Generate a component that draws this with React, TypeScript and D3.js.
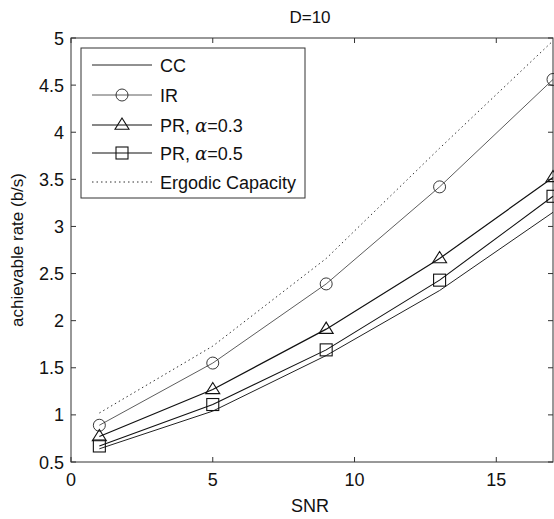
import React from "react";
import * as d3 from "d3";

const snr = [1, 5, 9, 13, 17];
const cc = [0.64, 1.04, 1.63, 2.32, 3.15];
const ir = [0.89, 1.55, 2.39, 3.42, 4.56];
const pr03 = [0.77, 1.27, 1.91, 2.66, 3.52];
const pr05 = [0.67, 1.11, 1.69, 2.43, 3.32];
const ergodic = [1.02, 1.73, 2.66, 3.83, 4.97];

const xTicks = [0, 5, 10, 15];
const yTicks = [0.5, 1, 1.5, 2, 2.5, 3, 3.5, 4, 4.5, 5];

const W = 554, H = 519;
const L = 71, R = 553, T = 38, B = 462;
const FONT = "'Liberation Sans', Arial, Helvetica, sans-serif";

type Marker = "none" | "circle" | "triangle" | "square";

function MarkerShape({ type, x, y }: { type: Marker; x: number; y: number }) {
  const s = 6;
  if (type === "circle") return <circle cx={x} cy={y} r={s} fill="none" stroke="#222" strokeWidth={0.9} />;
  if (type === "triangle")
    return (
      <path
        d={`M${x},${y - s - 1}L${x + s + 1},${y + s * 0.7}L${x - s - 1},${y + s * 0.7}Z`}
        fill="none"
        stroke="#111"
        strokeWidth={1.1}
      />
    );
  if (type === "square")
    return <rect x={x - s} y={y - s} width={2 * s} height={2 * s} fill="none" stroke="#111" strokeWidth={1.1} />;
  return null;
}

export default function App() {
  const x = d3.scaleLinear().domain([0, 17]).range([L, R]);
  const y = d3.scaleLinear().domain([0.5, 5]).range([B, T]);
  const line = d3
    .line<number>()
    .x((_, i) => x(snr[i]))
    .y((d) => y(d));

  const alpha = <tspan fontStyle="italic" fontFamily="'DejaVu Serif', serif">α</tspan>;
  const series: { name: React.ReactNode; data: number[]; marker: Marker; dash?: string; width: number; color: string }[] = [
    { name: "CC", data: cc, marker: "none", width: 1, color: "#222" },
    { name: "IR", data: ir, marker: "circle", width: 0.8, color: "#333" },
    { name: <>PR, {alpha}=0.3</>, data: pr03, marker: "triangle", width: 1.2, color: "#111" },
    { name: <>PR, {alpha}=0.5</>, data: pr05, marker: "square", width: 1.1, color: "#111" },
    { name: "Ergodic Capacity", data: ergodic, marker: "none", dash: "1.5,3", width: 1, color: "#333" },
  ];

  const legX = 81, legY = 48, legW = 224, legH = 150;
  const legRow = [65, 95, 125, 153, 182];

  return (
    <svg width={W} height={H} style={{ position: "absolute", left: 0, top: 0, background: "#fff" }} fontFamily={FONT}>
      <rect x={0} y={0} width={W} height={H} fill="#fff" />
      <text x={310} y={23} fontSize={17} textAnchor="middle" fill="#111">
        D=10
      </text>
      <rect x={L} y={T} width={R - L} height={B - T} fill="none" stroke="#333" strokeWidth={1} />
      {xTicks.map((t) => (
        <g key={"x" + t}>
          <line x1={x(t)} x2={x(t)} y1={B} y2={B - 5} stroke="#333" />
          <line x1={x(t)} x2={x(t)} y1={T} y2={T + 5} stroke="#333" />
          <text x={x(t)} y={B + 24} fontSize={18} textAnchor="middle" fill="#111">
            {t}
          </text>
        </g>
      ))}
      {yTicks.map((t) => (
        <g key={"y" + t}>
          <line x1={L} x2={L + 5} y1={y(t)} y2={y(t)} stroke="#333" />
          <line x1={R} x2={R - 5} y1={y(t)} y2={y(t)} stroke="#333" />
          <text x={L - 7} y={y(t) + 6.5} fontSize={18} textAnchor="end" fill="#111">
            {t}
          </text>
        </g>
      ))}
      <text x={310} y={512} fontSize={18} textAnchor="middle" fill="#111">
        SNR
      </text>
      <text transform={`translate(23,${(T + B) / 2}) rotate(-90)`} fontSize={17} textAnchor="middle" fill="#111">
        achievable rate (b/s)
      </text>

      {series.map((s, i) => (
        <g key={i}>
          <path d={line(s.data) || ""} fill="none" stroke={s.color} strokeWidth={s.width} strokeDasharray={s.dash} />
          {s.marker !== "none" &&
            s.data.map((v, j) => <MarkerShape key={j} type={s.marker} x={x(snr[j])} y={y(v)} />)}
        </g>
      ))}

      <rect x={legX} y={legY} width={legW} height={legH} fill="#fff" stroke="#333" strokeWidth={1} />
      {series.map((s, i) => (
        <g key={"l" + i}>
          <line x1={92} x2={152} y1={legRow[i]} y2={legRow[i]} stroke={s.color} strokeWidth={s.width} strokeDasharray={s.dash} />
          {s.marker !== "none" && <MarkerShape type={s.marker} x={122} y={legRow[i]} />}
          <text x={160} y={legRow[i] + 6.5} fontSize={18} fill="#111">
            {s.name}
          </text>
        </g>
      ))}
    </svg>
  );
}
